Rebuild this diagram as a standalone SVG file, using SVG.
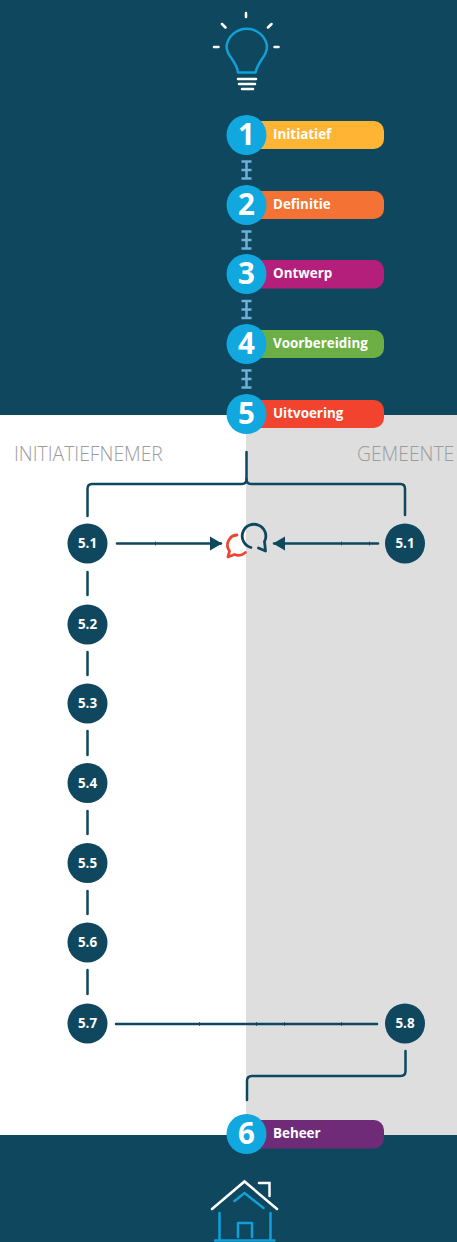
<svg xmlns="http://www.w3.org/2000/svg" width="457" height="1242" viewBox="0 0 457 1242">
<style>
text{font-family:"Open Sans","Noto Sans","Liberation Sans",sans-serif}
.pill-t{font-size:13.4px;font-weight:700;fill:#fff}
.num{font-size:29.500px;font-weight:700;fill:#fff;text-anchor:middle}
.big{fill:#11a8e0}
.n{fill:#0f475f}
.nt{font-size:13.400px;font-weight:700;fill:#fff;text-anchor:middle}
.col{font-size:19.300px;font-weight:300;fill:#9c9c9c}
.c{fill:none;stroke:#0f475f;stroke-width:2.5;stroke-linecap:round;stroke-linejoin:round}
.t{fill:none;stroke:#0f475f;stroke-width:1;opacity:.8}
.w{fill:none;stroke:#fff;stroke-width:2.5;stroke-linecap:round}
.b{fill:none;stroke:#11a0d8;stroke-width:2.5;stroke-linecap:round;stroke-linejoin:round}
.i{fill:none;stroke:#6fb1d6;stroke-width:2.500}
</style>
<defs>
<marker id="ah" markerUnits="userSpaceOnUse" markerWidth="13" markerHeight="15" refX="11" refY="7.500" orient="auto"><path d="M0 0.500L12 7.500L0 14.500Z" fill="#0f475f"/></marker>
<g id="tie"><path class="i" d="M-5-8.500H5M-5 8.500H5M0-8.500V8.500M-5 0H5"/></g>
</defs>
<rect id="bg-top" width="457" height="415" fill="#0f475f"/>
<rect id="bg-mid" y="415" width="246" height="720" fill="#fff"/>
<rect id="bg-right" x="246" y="415" width="211" height="720" fill="#dedede"/>
<rect id="bg-bottom" y="1135" width="457" height="107" fill="#0f475f"/>
<g id="bulb">
<path class="b" d="M238 72.500H255.500C256.500 68 259 63.500 262 59C266 54 267 50 267 46A20.500 20.500 0 0 0 226.500 46C226.500 50 228 54 232 59C235 63.500 237.500 68 238 72.500Z"/>
<path class="w" d="M246 13V17M222 24L225.500 27.500M271.500 24L268 27.500M214 47H218.500M274.500 47H278.500M238 79H256M239 84H255M242 89H253"/>
</g>
<g id="connectors">
<use href="#tie" x="246.500" y="170"/><use href="#tie" x="246.500" y="240"/><use href="#tie" x="246.500" y="309.500"/><use href="#tie" x="246.500" y="379"/>
<path class="c" d="M246.500 452V479Q246.500 484 242 484H92Q87.500 484 87.500 489V516"/>
<path class="c" d="M246.500 479Q246.500 484 251 484H400.500Q405 484 405 489V515"/>
<path class="c" d="M117 543.500H221" marker-end="url(#ah)"/>
<path class="c" d="M378 543.500H274" marker-end="url(#ah)"/>
<path class="c" d="M87.500 572V595M87.500 652V675M87.500 731V755M87.500 811V834M87.500 891V914M87.500 970V994"/>
<path class="c" d="M116 1024H377"/>
<path class="c" d="M405.500 1051V1071Q405.500 1076 400.500 1076H252Q247 1076 247 1081V1100"/>
<path class="t" d="M155.500 541.500V545.500M341.500 541.500V545.500M369.500 541.500V545.500M199.500 1022V1026M256.500 1022V1026M284.500 1022V1026M341.500 1022V1026"/>
</g>
<g id="chat">
<path fill="none" stroke="#f04430" stroke-width="2.800" stroke-linecap="round" stroke-linejoin="round" d="M237 535A10 10 0 0 0 229.500 551L228 557L234.500 554.500C238 556 242 555.500 245.500 552.500"/>
<path fill="none" stroke="#0f475f" stroke-width="2.800" stroke-linecap="round" stroke-linejoin="round" d="M251 547.500A11.800 11.800 0 1 1 264.500 541.500L265.500 551L258.500 548"/>
</g>
<g id="step1"><rect x="246" y="121" width="138" height="28" rx="10" fill="#ffb533"/><circle class="big" cx="246.500" cy="135" r="20"/><text class="num" x="246.500" y="145">1</text><text class="pill-t" x="273" y="139">Initiatief</text></g>
<g id="step2"><rect x="246" y="191" width="138" height="28" rx="10" fill="#f47234"/><circle class="big" cx="246.500" cy="205" r="20"/><text class="num" x="246.500" y="215">2</text><text class="pill-t" x="273" y="209">Definitie</text></g>
<g id="step3"><rect x="246" y="260" width="138" height="28.500" rx="10" fill="#b41f7c"/><circle class="big" cx="246.500" cy="274" r="20"/><text class="num" x="246.500" y="284">3</text><text class="pill-t" x="273" y="278">Ontwerp</text></g>
<g id="step4"><rect x="246" y="330" width="138" height="28" rx="10" fill="#6cb045"/><circle class="big" cx="246.500" cy="344" r="20"/><text class="num" x="246.500" y="354">4</text><text class="pill-t" x="273" y="348">Voorbereiding</text></g>
<g id="step5"><rect x="246" y="400" width="138" height="28" rx="10" fill="#f2432e"/><circle class="big" cx="246.500" cy="414" r="20"/><text class="num" x="246.500" y="424">5</text><text class="pill-t" x="273" y="418">Uitvoering</text></g>
<g id="step6"><rect x="246" y="1120" width="138" height="28.500" rx="10" fill="#6f2b78"/><circle class="big" cx="246.500" cy="1134" r="20"/><text class="num" x="246.500" y="1144">6</text><text class="pill-t" x="273" y="1138">Beheer</text></g>
<text id="lbl-init" class="col" x="14" y="461">INITIATIEFNEMER</text>
<text id="lbl-gem" class="col" x="357" y="461">GEMEENTE</text>
<g id="n51a"><circle class="n" cx="87.500" cy="543.500" r="20"/><text class="nt" x="87.500" y="548">5.1</text></g>
<g id="n51b"><circle class="n" cx="405" cy="543.500" r="20"/><text class="nt" x="405" y="548">5.1</text></g>
<g id="n52"><circle class="n" cx="87.500" cy="624.500" r="20"/><text class="nt" x="87.500" y="629">5.2</text></g>
<g id="n53"><circle class="n" cx="87.500" cy="703.500" r="20"/><text class="nt" x="87.500" y="708">5.3</text></g>
<g id="n54"><circle class="n" cx="87.500" cy="783" r="20"/><text class="nt" x="87.500" y="788">5.4</text></g>
<g id="n55"><circle class="n" cx="87.500" cy="863" r="20"/><text class="nt" x="87.500" y="868">5.5</text></g>
<g id="n56"><circle class="n" cx="87.500" cy="942.500" r="20"/><text class="nt" x="87.500" y="947">5.6</text></g>
<g id="n57"><circle class="n" cx="87.500" cy="1023.500" r="20"/><text class="nt" x="87.500" y="1028">5.7</text></g>
<g id="n58"><circle class="n" cx="405" cy="1023.500" r="20"/><text class="nt" x="405" y="1028">5.8</text></g>
<g id="house">
<path class="w" d="M212 1209L244.500 1181.500L277 1209M259 1183H269.500V1196"/>
<path class="b" d="M234.500 1201L244.500 1193L263.500 1208M219.500 1213V1240M270.500 1213V1240M238 1237V1223H252V1237M215 1240.500H274.500"/>
</g>
</svg>
